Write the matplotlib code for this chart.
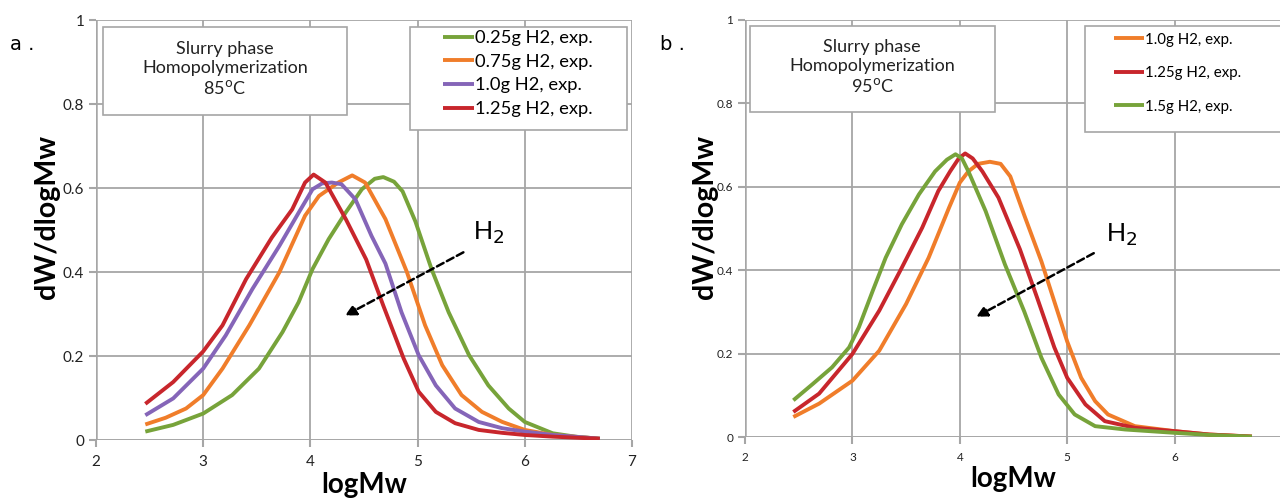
import matplotlib
matplotlib.use("Agg")
import matplotlib.pyplot as plt
from matplotlib.patches import Rectangle

# panel a (85 C)
a_x_025 = [2.46, 2.72, 3.0, 3.27, 3.52, 3.74, 3.89, 4.02, 4.17, 4.33, 4.48, 4.6, 4.68, 4.78, 4.86, 4.98,
           5.13, 5.29, 5.48, 5.66, 5.85, 6.0, 6.26, 6.47, 6.7]
a_y_025 = [0.02, 0.036, 0.063, 0.107, 0.17, 0.257, 0.328, 0.407, 0.478, 0.542, 0.597, 0.622, 0.626, 0.615,
           0.592, 0.52, 0.407, 0.304, 0.202, 0.13, 0.075, 0.043, 0.016, 0.008, 0.003]
a_x_075 = [2.46, 2.65, 2.84, 3.0, 3.18, 3.43, 3.71, 3.95, 4.08, 4.26, 4.39, 4.51, 4.7, 4.9, 5.07, 5.23,
           5.41, 5.6, 5.79, 6.0, 6.26, 6.7]
a_y_075 = [0.037, 0.053, 0.075, 0.107, 0.17, 0.273, 0.399, 0.534, 0.581, 0.613, 0.63, 0.613, 0.526, 0.40,
           0.273, 0.178, 0.107, 0.067, 0.043, 0.024, 0.012, 0.003]
a_x_10 = [2.46, 2.72, 3.0, 3.21, 3.46, 3.71, 3.89, 4.02, 4.11, 4.2, 4.29, 4.42, 4.57, 4.7, 4.85, 5.01,
          5.17, 5.35, 5.57, 5.79, 6.0, 6.26, 6.7]
a_y_10 = [0.059, 0.099, 0.17, 0.249, 0.36, 0.462, 0.541, 0.597, 0.611, 0.613, 0.609, 0.573, 0.486, 0.42,
          0.304, 0.202, 0.13, 0.075, 0.043, 0.028, 0.02, 0.012, 0.003]
a_x_125 = [2.46, 2.72, 3.0, 3.18, 3.4, 3.64, 3.83, 3.95, 4.03, 4.14, 4.33, 4.52, 4.68, 4.87, 5.01, 5.17,
           5.35, 5.57, 5.79, 6.0, 6.26, 6.7]
a_y_125 = [0.086, 0.138, 0.211, 0.273, 0.383, 0.482, 0.549, 0.613, 0.632, 0.613, 0.526, 0.43, 0.32, 0.194,
           0.115, 0.067, 0.04, 0.024, 0.017, 0.012, 0.008, 0.003]

# panel b (95 C)
b_x_10 = [2.45, 2.69, 3.0, 3.25, 3.5, 3.71, 3.9, 4.0, 4.08, 4.17, 4.28, 4.38, 4.47, 4.6, 4.76, 4.82,
          4.92, 5.0, 5.13, 5.26, 5.38, 5.63, 6.0, 6.32, 6.72]
b_y_10 = [0.048, 0.08, 0.135, 0.207, 0.319, 0.43, 0.55, 0.61, 0.637, 0.655, 0.66, 0.655, 0.625, 0.532,
          0.421, 0.373, 0.293, 0.229, 0.142, 0.086, 0.054, 0.026, 0.014, 0.006, 0.001]
b_x_125 = [2.45, 2.69, 3.0, 3.25, 3.46, 3.65, 3.8, 3.91, 3.99, 4.05, 4.12, 4.21, 4.36, 4.56, 4.72, 4.88,
           5.0, 5.17, 5.35, 5.63, 6.0, 6.32, 6.72]
b_y_125 = [0.06, 0.104, 0.199, 0.303, 0.406, 0.502, 0.59, 0.637, 0.668, 0.68, 0.668, 0.637, 0.574, 0.45,
           0.334, 0.215, 0.142, 0.078, 0.038, 0.022, 0.014, 0.006, 0.001]
b_x_15 = [2.45, 2.63, 2.81, 2.97, 3.06, 3.19, 3.31, 3.46, 3.62, 3.77, 3.88, 3.96, 4.02, 4.08, 4.24, 4.42,
          4.6, 4.76, 4.92, 5.07, 5.26, 5.54, 6.0, 6.32, 6.72]
b_y_15 = [0.088, 0.127, 0.167, 0.215, 0.263, 0.351, 0.43, 0.51, 0.582, 0.637, 0.665, 0.678, 0.668, 0.637,
          0.542, 0.414, 0.301, 0.19, 0.102, 0.054, 0.026, 0.018, 0.01, 0.005, 0.001]

green = '#77a33a'
orange = '#f07d2a'
purple = '#8565b8'
red = '#c8262c'
grid_c = '#a6a6a6'

fig = plt.figure(figsize=(12.8, 5), dpi=100)
axa = fig.add_axes([96/1280, 1-440/500, 536/1280, 420/500])
axb = fig.add_axes([745/1280, 1-437/500, 537/1280, 417/500])


def style(ax, fs, xlabels, ylab_x, ylab_y):
    ax.set_xlim(2, 7)
    ax.set_ylim(0, 1)
    ax.set_xticks([2, 3, 4, 5, 6, 7])
    ax.set_xticklabels(xlabels)
    ax.set_yticks([0, 0.2, 0.4, 0.6, 0.8, 1.0])
    ax.set_yticklabels(['0', '0.2', '0.4', '0.6', '0.8', '1'])
    ax.grid(True, color=grid_c, lw=1.3)
    for s in ax.spines.values():
        s.set_visible(False)
    ax.axhline(0, color=grid_c, lw=1.8, zorder=1)
    ax.axvline(2, color=grid_c, lw=1.8, zorder=1)
    ax.tick_params(colors=grid_c, length=5, width=1.5, labelcolor='#222222', labelsize=fs)
    ax.tick_params(axis='x', pad=6)
    for t in ax.get_xticklabels() + ax.get_yticklabels():
        t.set_fontfamily('Lato')
    ax.set_xlabel('logMw', fontsize=20, fontweight='bold', family='Lato', labelpad=2)
    ax.set_ylabel('dW/dlogMw', fontsize=20.5, fontweight='bold', family='Lato')
    ax.yaxis.set_label_coords(ylab_x, ylab_y)


style(axa, 11, ['2', '3', '4', '5', '6', '7'], -0.068, 0.53)
style(axb, 8.5, ['2', '3', '4', '5', '6', ''], -0.05, 0.528)

lw = 2.8
kw = dict(lw=lw, solid_joinstyle='round', solid_capstyle='butt')
axa.plot(a_x_025, a_y_025, color=green, label='0.25g H2, exp.', **kw)
axa.plot(a_x_075, a_y_075, color=orange, label='0.75g H2, exp.', **kw)
axa.plot(a_x_10, a_y_10, color=purple, label='1.0g H2, exp.', **kw)
axa.plot(a_x_125, a_y_125, color=red, label='1.25g H2, exp.', **kw)

axb.plot(b_x_10, b_y_10, color=orange, label='1.0g H2, exp.', **kw)
axb.plot(b_x_125, b_y_125, color=red, label='1.25g H2, exp.', **kw)
axb.plot(b_x_15, b_y_15, color=green, label='1.5g H2, exp.', **kw)

# info boxes
for ax, x0, x1, y0, y1, temp in [(axa, 0.013, 0.468, 0.774, 0.983, '85$^{\\rm o}$C'),
                                 (axb, 0.009, 0.465, 0.779, 0.986, '95$^{\\rm o}$C')]:
    ax.add_patch(Rectangle((x0, y0), x1 - x0, y1 - y0, transform=ax.transAxes,
                           facecolor='white', edgecolor=grid_c, lw=1.2, zorder=5))
    ax.text((x0 + x1) / 2, (y0 + y1) / 2 + 0.005, 'Slurry phase\nHomopolymerization\n' + temp,
            transform=ax.transAxes, ha='center', va='center', fontsize=13,
            family='Lato', linespacing=1.2, zorder=6, color='#222222')

# legend boxes
axa.add_patch(Rectangle((0.586, 0.738), 0.991 - 0.586, 0.983 - 0.738, transform=axa.transAxes,
                        facecolor='white', edgecolor=grid_c, lw=1.2, zorder=5))
axb.add_patch(Rectangle((0.633, 0.731), 0.999 - 0.633, 0.986 - 0.731, transform=axb.transAxes,
                        facecolor='white', edgecolor=grid_c, lw=1.2, zorder=5))
leg = axa.legend(loc='upper left', bbox_to_anchor=(0.647, 0.976), frameon=False,
                 handlelength=1.7, handletextpad=0.05, labelspacing=0.42, borderpad=0,
                 borderaxespad=0, prop={'family': 'Lato', 'size': 13.2})
leg.set_zorder(7)
leg = axb.legend(loc='upper left', bbox_to_anchor=(0.688, 0.97), frameon=False,
                 handlelength=2.0, handletextpad=0.05, labelspacing=1.3, borderpad=0,
                 borderaxespad=0, prop={'family': 'Lato', 'size': 10.8})
leg.set_zorder(7)

# H2 arrows
axa.text(0.703, 0.478, 'H$_2$', transform=axa.transAxes, fontsize=19, family='Liberation Sans')
axa.annotate('', xy=(4.30, 0.293), xytext=(5.45, 0.45),
             arrowprops=dict(arrowstyle='-|>', linestyle=(0, (3, 1.5)), color='black', lw=1.8,
                             mutation_scale=16))
axb.text(0.673, 0.468, 'H$_2$', transform=axb.transAxes, fontsize=19, family='Liberation Sans')
axb.annotate('', xy=(4.13, 0.285), xytext=(5.27, 0.444),
             arrowprops=dict(arrowstyle='-|>', linestyle=(0, (3, 1.5)), color='black', lw=1.8,
                             mutation_scale=16))

fig.text(10/1280, 1-45/500, 'a .', fontsize=14, family='DejaVu Sans', va='center')
fig.text(660/1280, 1-45/500, 'b .', fontsize=14, family='DejaVu Sans', va='center')

fig.savefig('out.png', dpi=100)
